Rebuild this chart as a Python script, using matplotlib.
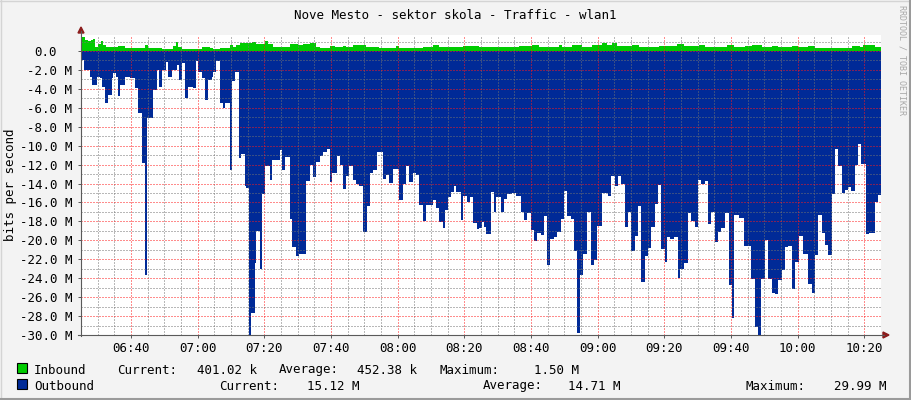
import numpy as np
import matplotlib
matplotlib.use('Agg')
import matplotlib.pyplot as plt
from matplotlib.lines import Line2D
from matplotlib.patches import Rectangle, Polygon
from matplotlib.transforms import offset_copy

# time axis: minutes after 06:25, values in Mbit/s (step changes)
in_t = [0.0, 1.2, 2.2, 2.9, 3.5, 4.2, 5.2, 5.9, 6.5, 7.5, 11.2, 13.2, 19.2, 20.2, 22.7,
        24.2, 27.7, 28.4, 29.2, 30.2, 36.2, 38.7, 39.6, 41.6, 44.6, 45.6, 46.6, 47.6,
        51.4, 52.4, 53.6, 55.3, 56.1, 57.6, 62.6, 65.1, 66.6, 68.6, 70.6, 71.6, 74.6,
        76.1, 78.6, 79.5, 81.5, 85.5, 89.5, 94.5, 95.5, 102.5, 105.5, 107.5, 114.5,
        119.4, 125.4, 131.4, 135.4, 137.4, 143.4, 144.4, 147.4, 150.4, 153.4, 156.4,
        157.9, 159.3, 160.8, 165.3, 167.3, 173.3, 175.3, 178.8, 180.8, 185.3, 187.3,
        193.8, 195.8, 199.2, 201.2, 204.2, 207.2, 209.2, 213.2, 215.2, 218.2, 220.2,
        231.2, 233.7, 234.7, 238.2]
in_v = [1.5, 1.2, 1.1, 1.2, 1.3, 0.45, 0.75, 1.05, 0.65, 0.45, 0.5, 0.35, 0.65, 0.3, 0.35,
        0.2, 0.5, 0.9, 0.45, 0.2, 0.45, 0.3, 0.2, 0.3, 0.65, 0.45, 0.65, 0.8,
        0.9, 0.7, 0.75, 1.05, 0.75, 0.45, 0.7, 0.65, 0.7, 0.8, 0.45, 0.35, 0.5,
        0.45, 0.55, 0.45, 0.65, 0.4, 0.35, 0.5, 0.35, 0.45, 0.6, 0.4, 0.5,
        0.45, 0.4, 0.55, 0.65, 0.45, 0.65, 0.4, 0.65, 0.45, 0.65, 0.8,
        0.65, 0.8, 0.5, 0.65, 0.45, 0.55, 0.5, 0.7, 0.5, 0.65, 0.45,
        0.65, 0.45, 0.5, 0.65, 0.45, 0.55, 0.45, 0.55, 0.45, 0.5, 0.35,
        0.55, 0.4, 0.6, 0.45]

out_t = [0.0, 0.9, 2.7, 3.2, 4.7, 5.7, 6.2, 7.2, 8.2, 9.2, 9.7, 10.5, 11.2, 11.7, 13.2,
         14.7, 16.2, 17.2, 18.4, 19.2, 19.7, 21.7, 22.7, 23.4, 24.2, 25.5, 26.2, 27.2,
         28.7, 29.4, 30.2, 31.2, 32.2, 33.7, 34.5, 35.2, 36.2, 37.2, 38.2, 39.2,
         39.6, 40.4, 41.6, 42.6, 43.3, 44.6, 45.3, 46.3, 47.3, 48.1, 49.1, 49.6, 50.4,
         51.1, 52.1, 52.6, 53.6, 54.3, 55.1, 56.6, 57.3, 59.6, 60.4, 61.1, 62.6, 63.4,
         64.6, 65.4, 67.6, 68.6, 69.6, 70.6, 71.6, 72.6, 73.8, 74.6, 75.3, 76.8, 77.6,
         78.6, 79.5, 80.5, 81.5, 82.5, 83.5, 84.5, 85.7, 86.7, 87.5, 88.7, 90.5, 91.5,
         92.5, 93.7, 95.5, 96.5, 97.5, 98.5, 99.5, 100.5, 101.5, 102.7, 103.5, 105.7,
         106.5, 107.5, 108.5, 109.3, 110.0, 111.0, 112.0, 112.5, 114.0, 114.7, 115.7,
         116.7, 117.7, 118.7, 119.4, 120.2, 120.9, 121.6, 122.9, 123.9, 124.6, 125.9,
         126.9, 127.9, 129.4, 130.6, 131.9, 132.9, 133.9, 134.9, 135.9, 136.9, 137.9,
         138.9, 139.9, 140.6, 141.9, 142.9, 143.9, 144.9, 145.9, 146.9, 147.9, 148.9,
         149.7, 150.6, 151.9, 152.9, 153.9, 154.9, 156.4, 158.1, 159.1, 160.1, 161.1,
         162.1, 163.1, 164.1, 165.1, 166.1, 167.1, 168.1, 169.1, 170.1, 171.1, 172.1,
         173.1, 174.1, 175.1, 175.8, 176.8, 177.8, 179.1, 179.8, 180.8, 182.1, 183.1,
         184.1, 185.1, 186.1, 187.1, 188.1, 189.1, 190.3, 191.1, 192.1, 193.3, 194.3,
         195.3, 196.0, 197.3, 198.8, 201.0, 202.2, 203.0, 204.0, 205.2, 206.0, 207.2,
         208.2, 209.2, 210.2, 211.2, 212.2, 213.2, 214.2, 215.4, 216.7, 218.2, 219.2,
         220.2, 221.2, 222.2, 223.2, 224.2, 225.2, 226.2, 227.2, 228.4, 229.2, 230.2,
         231.0, 232.2, 233.2, 234.0, 235.4, 236.4, 238.2, 239.0]
out_v = [1.0, 2.0, 2.7, 3.6, 2.7, 2.9, 3.8, 5.5, 4.6, 2.9, 2.3, 2.7, 4.8, 3.6, 2.7,
         2.9, 3.9, 6.6, 11.8, 23.7, 7.1, 4.1, 2.0, 3.8, 2.0, 1.2, 2.7, 2.0,
         1.5, 3.1, 1.3, 5.0, 3.8, 3.9, 1.1, 2.2, 2.9, 5.2, 3.1, 2.7,
         2.2, 1.1, 5.5, 6.0, 5.5, 12.6, 3.2, 2.2, 11.3, 10.9, 14.3, 14.5, 30.0,
         27.7, 22.4, 19.0, 23.0, 15.1, 12.2, 13.6, 11.5, 10.5, 12.6, 11.2, 17.7, 20.7,
         21.7, 21.4, 13.7, 12.0, 13.3, 11.7, 11.1, 10.7, 10.3, 13.8, 12.9, 11.1, 12.0,
         14.6, 13.2, 12.2, 13.6, 14.0, 14.3, 19.1, 16.4, 12.9, 12.6, 10.7, 13.5, 13.1,
         13.9, 12.5, 15.7, 14.0, 12.2, 13.8, 12.9, 13.1, 16.3, 18.0, 16.3, 15.7,
         16.6, 18.1, 18.7, 16.8, 15.4, 14.9, 14.3, 14.9, 17.9, 15.3, 16.0,
         15.4, 18.2, 18.8, 18.7, 18.1, 18.6, 19.3, 14.9, 17.0, 15.4, 17.0,
         15.6, 15.1, 15.0, 15.3, 17.0, 17.9, 17.1, 18.9, 20.1, 19.2, 19.4,
         17.4, 22.6, 19.9, 19.7, 19.1, 17.7, 14.8, 17.4, 17.7, 21.1, 29.8,
         23.7, 21.4, 17.0, 22.6, 22.1, 18.5, 15.0, 15.3, 13.2, 14.3, 13.2,
         14.0, 18.6, 17.0, 21.1, 19.5, 16.4, 24.4, 21.7, 20.8, 18.6, 16.2,
         14.2, 20.9, 22.3, 19.7, 19.9, 19.7, 24.0, 23.0, 22.4, 17.1, 18.0,
         18.6, 13.6, 14.0, 13.7, 18.3, 17.0, 20.2, 19.1, 18.7, 17.1, 24.7,
         28.2, 17.3, 17.6, 20.6, 24.1, 29.2, 30.0, 24.1, 20.0, 24.1, 25.6,
         25.7, 24.2, 23.1, 20.7, 20.6, 25.1, 22.3, 19.5, 21.4, 24.6, 25.6,
         21.5, 17.3, 19.2, 20.5, 21.5, 15.1, 10.4, 12.1, 15.0, 14.7, 14.4,
         14.8, 12.0, 9.8, 11.9, 19.3, 19.2, 16.0, 15.2]

x_ticks = [15, 35, 55, 75, 95, 115, 135, 155, 175, 195, 215, 235]
x_labels = ['06:40', '07:00', '07:20', '07:40', '08:00', '08:20',
            '08:40', '09:00', '09:20', '09:40', '10:00', '10:20']
y_ticks = [0, -2, -4, -6, -8, -10, -12, -14, -16, -18, -20, -22, -24, -26, -28, -30]

legend_in = ['Inbound', 'Current:', '401.02 k', 'Average:', '452.38 k', 'Maximum:', '1.50 M']
legend_out = ['Outbound', 'Current:', '15.12 M', 'Average:', '14.71 M', 'Maximum:', '29.99 M']

W, H = 911, 400
GREEN = '#00CC00'
BLUE = '#002A97'
AXIS = '#5A5A5A'
ARROW = '#8B1C1C'

plt.rcParams['font.family'] = ['DejaVu Sans Mono']
plt.rcParams['font.size'] = 9

fig = plt.figure(figsize=(W / 100, H / 100), dpi=100, facecolor='#F3F3F3')


def fx(x):
    return x / W


def fy(y):
    return 1 - y / H


# frame shading like rrdtool
fig.add_artist(Line2D([0, 1], [fy(0.5), fy(0.5)], color='#D4D4D4', lw=1, transform=fig.transFigure))
fig.add_artist(Line2D([fx(0.5), fx(0.5)], [0, 1], color='#D4D4D4', lw=1, transform=fig.transFigure))
fig.add_artist(Line2D([0, 1], [fy(399), fy(399)], color='#9A9A9A', lw=1.5, transform=fig.transFigure))
fig.add_artist(Line2D([fx(910), fx(910)], [0, 1], color='#9A9A9A', lw=1.5, transform=fig.transFigure))

ax = fig.add_axes([fx(81), fy(335), 800 / W, 300 / H])
ax.set_facecolor('white')
ax.set_xlim(0, 240)
ax.set_ylim(-30, 1.69)

t_in = np.append(in_t, 240)
v_in = np.append(in_v, in_v[-1])
t_out = np.append(out_t, 240)
v_out = -np.append(out_v, out_v[-1])

ax.fill_between(t_in, 0, v_in, step='post', color=GREEN, lw=0, zorder=1)
ax.fill_between(t_out, 0, v_out, step='post', color=BLUE, lw=0, zorder=1)

# grid (drawn above the areas, like rrdtool)
ax.set_axisbelow(False)
ax.set_xticks(x_ticks)
ax.set_xticks(np.arange(5, 240, 5), minor=True)
ax.set_yticks(y_ticks)
ax.set_yticks(np.arange(-29, 2, 1), minor=True)
ax.set_xticklabels([])
ax.set_yticklabels([])
ax.grid(which='major', color=(1, 0.1, 0.1, 0.28), lw=0.72, ls=(0, (1, 2)))
ax.grid(which='minor', color=(0.45, 0.45, 0.45, 0.3), lw=0.72, ls=(0, (1, 2)))
ax.tick_params(which='major', direction='out', length=2.5, width=0.72, color=AXIS)
ax.tick_params(which='minor', length=0)
for s in ax.spines.values():
    s.set_visible(False)

# axes with arrows
fig.add_artist(Line2D([fx(81), fx(81)], [fy(336), fy(31)], color=AXIS, lw=0.8, transform=fig.transFigure))
fig.add_artist(Line2D([fx(78), fx(884)], [fy(335), fy(335)], color=AXIS, lw=0.8, transform=fig.transFigure))
fig.add_artist(Polygon([[fx(81), fy(27)], [fx(78), fy(33)], [fx(84), fy(33)]], closed=True,
                       color=ARROW, transform=fig.transFigure))
fig.add_artist(Polygon([[fx(889), fy(335)], [fx(883), fy(332)], [fx(883), fy(338)]], closed=True,
                       color=ARROW, transform=fig.transFigure))

# tick labels
xtr = offset_copy(ax.get_xaxis_transform(), fig=fig, x=0, y=-17, units='dots')
for t, lab in zip(x_ticks, x_labels):
    ax.text(t, 0, lab, transform=xtr, ha='center', va='baseline', clip_on=False)

ytr = offset_copy(ax.get_yaxis_transform(), fig=fig, x=-9, y=-5, units='dots')
ytr0 = offset_copy(ax.get_yaxis_transform(), fig=fig, x=-24, y=-5, units='dots')
for v in y_ticks:
    if v == 0:
        ax.text(0, v, '0.0', transform=ytr0, ha='right', va='baseline', clip_on=False)
    else:
        ax.text(0, v, '%.1f M' % v, transform=ytr, ha='right', va='baseline', clip_on=False)

fig.text(fx(10.5), fy(185), 'bits per second', rotation=90, ha='center', va='center')
fig.text(fx(455), fy(19), 'Nove Mesto - sektor skola - Traffic - wlan1', ha='center', va='baseline')
fig.text(fx(902), fy(5), 'RRDTOOL / TOBI OETIKER', rotation=270, ha='center', va='top',
         fontsize=6, color='#A8A8A8')

# legend
fig.add_artist(Rectangle((fx(17), fy(373)), 10 / W, 10 / H, facecolor=GREEN, edgecolor='black',
                         lw=0.8, transform=fig.transFigure))
fig.add_artist(Rectangle((fx(17), fy(389)), 10 / W, 10 / H, facecolor=BLUE, edgecolor='black',
                         lw=0.8, transform=fig.transFigure))
in_x = [34, 117, 197, 279, 357, 439, 534]
out_x = [34, 219, 307, 483, 568, 745, 834]
for x, s in zip(in_x, legend_in):
    fig.text(fx(x), fy(373.5), s, ha='left', va='baseline')
for x, s in zip(out_x, legend_out):
    fig.text(fx(x), fy(389.5), s, ha='left', va='baseline')

fig.savefig('out.png', dpi=100, facecolor=fig.get_facecolor())
